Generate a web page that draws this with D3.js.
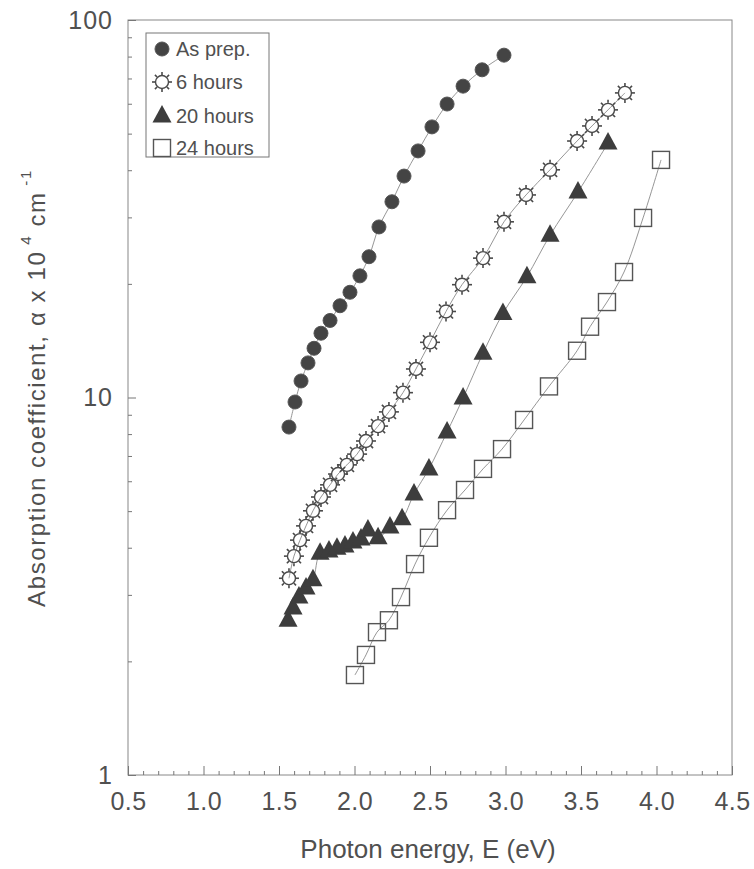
<!DOCTYPE html>
<html>
<head>
<meta charset="utf-8">
<script src="https://cdn.jsdelivr.net/npm/d3@7"></script>
<style>
  body { margin: 0; background: #fff; }
  text { font-family: "Liberation Sans", Arial, sans-serif; fill: #505050; }
  .axis path, .axis line { stroke: #777; }
</style>
</head>
<body>
<div class="chart"></div>
<script>
// data (photon energy in eV, alpha x 1e4 cm^-1)
var asPrepE = [1.566, 1.606, 1.646, 1.692, 1.732, 1.778, 1.838, 1.904, 1.970, 2.036, 2.096, 2.162, 2.248, 2.328, 2.421, 2.513, 2.613, 2.719, 2.845, 2.990];
var asPrepA = [8.35, 9.73, 11.06, 12.35, 13.5, 14.8, 16.0, 17.5, 19.0, 21.0, 23.6, 28.3, 33.0, 38.6, 45.0, 52.1, 59.9, 66.8, 73.8, 80.7];

var h6E = [1.566, 1.599, 1.639, 1.679, 1.725, 1.778, 1.838, 1.891, 1.950, 2.017, 2.076, 2.156, 2.228, 2.321, 2.407, 2.500, 2.606, 2.712, 2.851, 2.990, 3.136, 3.295, 3.474, 3.573, 3.679, 3.791];
var h6A = [3.32, 3.80, 4.19, 4.57, 5.01, 5.45, 5.87, 6.27, 6.63, 7.08, 7.67, 8.40, 9.16, 10.3, 11.9, 14.0, 16.9, 19.9, 23.4, 29.2, 34.4, 40.1, 47.8, 52.4, 57.8, 64.1];

var h20E = [1.560, 1.593, 1.632, 1.679, 1.725, 1.772, 1.831, 1.884, 1.937, 1.990, 2.043, 2.089, 2.156, 2.235, 2.315, 2.394, 2.493, 2.613, 2.719, 2.851, 2.983, 3.142, 3.295, 3.480, 3.679];
var h20A = [2.57, 2.77, 2.96, 3.13, 3.29, 3.87, 3.92, 3.99, 4.04, 4.14, 4.22, 4.46, 4.25, 4.54, 4.77, 5.55, 6.47, 8.10, 9.97, 13.1, 16.7, 20.9, 26.9, 35.0, 47.2];

var h24E = [2.003, 2.076, 2.149, 2.228, 2.308, 2.401, 2.493, 2.613, 2.732, 2.851, 2.977, 3.123, 3.288, 3.474, 3.560, 3.672, 3.785, 3.911, 4.030];
var h24A = [1.84, 2.08, 2.39, 2.57, 2.96, 3.62, 4.25, 5.03, 5.69, 6.47, 7.30, 8.72, 10.7, 13.3, 15.4, 17.9, 21.5, 29.9, 42.6];

var seriesNames = ["As prep.", "6 hours", "20 hours", "24 hours"];
var xTicks = [0.5, 1.0, 1.5, 2.0, 2.5, 3.0, 3.5, 4.0, 4.5];
var yTicks = [1, 10, 100];

var svgWidth = 754, svgHeight = 869;
var svg = d3.select(".chart").append("svg")
  .attr("width", svgWidth)
  .attr("height", svgHeight);

var x = d3.scaleLinear().domain([0.5, 4.5]).range([128, 732]);
var y = d3.scaleLog().domain([1, 100]).range([775, 20]);

// frame
svg.append("rect")
  .attr("x", x(0.5)).attr("y", y(100))
  .attr("width", x(4.5) - x(0.5)).attr("height", y(1) - y(100))
  .attr("fill", "none").attr("stroke", "#888").attr("stroke-width", 1);

// x minor ticks
var xMinor = d3.range(6, 45).map(d => d / 10).filter(d => Math.round(d * 10) % 5 !== 0);
svg.append("g").attr("class", "axis")
  .attr("transform", "translate(0," + y(1) + ")")
  .call(d3.axisBottom(x).tickValues(xMinor).tickSize(-4).tickFormat(""))
  .call(g => g.select(".domain").remove());

var xAxis = svg.append("g").attr("class", "axis")
  .attr("transform", "translate(0," + y(1) + ")")
  .call(d3.axisBottom(x).tickValues(xTicks).tickSize(-9).tickPadding(17).tickFormat(d3.format(".1f")));
xAxis.select(".domain").remove();
xAxis.selectAll("text").attr("font-size", 25).attr("letter-spacing", 0.5).attr("fill", "#505050");

// y minor ticks
var yMinor = [];
[1, 10].forEach(function(dec) { for (var k = 2; k <= 9; k++) yMinor.push(dec * k); });
svg.append("g").attr("class", "axis")
  .attr("transform", "translate(" + x(0.5) + ",0)")
  .call(d3.axisLeft(y).tickValues(yMinor).tickSize(-4).tickFormat(""))
  .call(g => g.select(".domain").remove());

var yAxis = svg.append("g").attr("class", "axis")
  .attr("transform", "translate(" + x(0.5) + ",0)")
  .call(d3.axisLeft(y).tickValues(yTicks).tickSize(-8).tickPadding(15).tickFormat(d3.format("d")));
yAxis.select(".domain").remove();
yAxis.selectAll("text").attr("font-size", 25).attr("letter-spacing", 1).attr("fill", "#505050");

// axis titles
svg.append("text")
  .attr("x", 428).attr("y", 858)
  .attr("text-anchor", "middle")
  .attr("font-size", 26)
  .text("Photon energy, E (eV)");

var yTitle = svg.append("text")
  .attr("transform", "translate(45,388) rotate(-90)")
  .attr("text-anchor", "middle")
  .attr("font-size", 24)
  .attr("letter-spacing", 1.6);
yTitle.append("tspan").text("Absorption coefficient, α x 10");
yTitle.append("tspan").attr("dy", -14).attr("font-size", 15).text(" 4");
yTitle.append("tspan").attr("dy", 14).text("   cm");
yTitle.append("tspan").attr("dy", -14).attr("font-size", 15).text("   -1");

// series
var lineGen = d3.line().x(d => x(d[0])).y(d => y(d[1])).curve(d3.curveCatmullRom);

function pairs(es, as) { return es.map((e, i) => [e, as[i]]); }
var series = [pairs(asPrepE, asPrepA), pairs(h6E, h6A), pairs(h20E, h20A), pairs(h24E, h24A)];

series.forEach(function(pts) {
  svg.append("path")
    .datum(pts)
    .attr("d", lineGen)
    .attr("fill", "none")
    .attr("stroke", "#8a8a8a")
    .attr("stroke-width", 0.9);
});

function drawMarker(g, type) {
  if (type === 0) {
    g.append("circle").attr("r", 7).attr("fill", "#444").attr("stroke", "#555");
  } else if (type === 1) {
    g.append("circle").attr("r", 6.5).attr("fill", "none").attr("stroke", "#4a4a4a").attr("stroke-width", 1.4);
    for (var k = 0; k < 8; k++) {
      var a = k * Math.PI / 4;
      g.append("line")
        .attr("x1", 7 * Math.cos(a)).attr("y1", 7 * Math.sin(a))
        .attr("x2", 10 * Math.cos(a)).attr("y2", 10 * Math.sin(a))
        .attr("stroke", "#4a4a4a").attr("stroke-width", 1.6);
    }
  } else if (type === 2) {
    g.append("path").attr("d", "M0,-11 L9.5,6.5 L-9.5,6.5 Z").attr("fill", "#3d3d3d");
  } else {
    g.append("rect").attr("x", -8.5).attr("y", -8.5).attr("width", 17).attr("height", 17)
      .attr("fill", "none").attr("stroke", "#555").attr("stroke-width", 1.4);
  }
}

series.forEach(function(pts, si) {
  svg.append("g").selectAll("g")
    .data(pts)
    .enter()
    .append("g")
    .attr("transform", d => "translate(" + x(d[0]) + "," + y(d[1]) + ")")
    .each(function() { drawMarker(d3.select(this), si); });
});

// legend
var legend = svg.append("g");
legend.append("rect")
  .attr("x", 146).attr("y", 33).attr("width", 123).attr("height", 124)
  .attr("fill", "#fff").attr("stroke", "#777").attr("stroke-width", 1);
var legY = [49, 82, 116, 148];
seriesNames.forEach(function(name, i) {
  var g = legend.append("g").attr("transform", "translate(162," + legY[i] + ")");
  drawMarker(g, i);
  legend.append("text")
    .attr("x", 176).attr("y", legY[i] + 7)
    .attr("font-size", 20)
    .text(name);
});
</script>
</body>
</html>
